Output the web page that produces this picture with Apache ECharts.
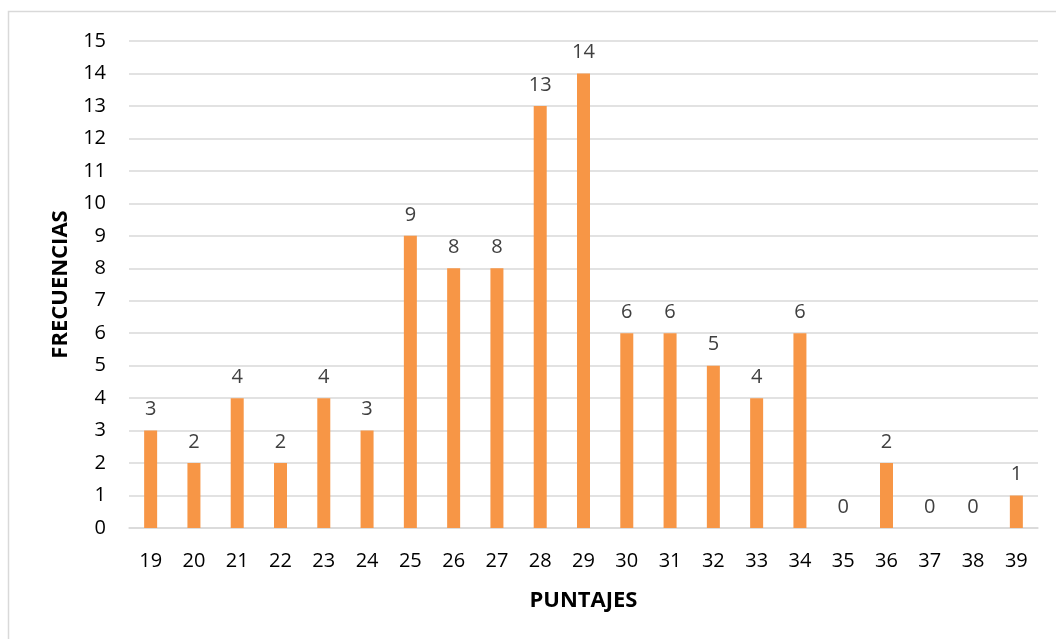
<!DOCTYPE html>
<html>
<head>
<meta charset="utf-8">
<script src="https://cdn.jsdelivr.net/npm/echarts@6/dist/echarts.min.js"></script>
<style>
html,body{margin:0;padding:0;background:#fff;}
#c{width:1056px;height:639px;}
</style>
</head>
<body>
<div id="c"></div>
<script>
const categories = ['19','20','21','22','23','24','25','26','27','28','29','30','31','32','33','34','35','36','37','38','39'];
const frecuencias = [3,2,4,2,4,3,9,8,8,13,14,6,6,5,4,6,0,2,0,0,1];
const yTicks = {min:0, max:15, interval:1};

const FONT = 'Open Sans';
const chart = echarts.init(document.getElementById('c'));
chart.setOption({
  animation:false,
  backgroundColor:'#fff',
  textStyle:{fontFamily:FONT},
  graphic:[{type:'rect', shape:{x:8.5,y:11.5,width:1060,height:640}, style:{fill:'none',stroke:'#d9d9d9',lineWidth:1.5}, silent:true}],
  grid:{left:129, right:18, top:41, bottom:111},
  xAxis:{
    type:'category', data:categories,
    name:'PUNTAJES', nameLocation:'middle', nameGap:62,
    nameTextStyle:{fontFamily:FONT, fontWeight:'bold', fontSize:22, color:'#000'},
    axisLine:{lineStyle:{color:'#d9d9d9', width:1.5}},
    axisTick:{show:false},
    axisLabel:{color:'#000', fontSize:20, margin:23, fontFamily:FONT}
  },
  yAxis:{
    type:'value', min:yTicks.min, max:yTicks.max, interval:yTicks.interval,
    name:'FRECUENCIAS', nameLocation:'middle', nameGap:52, nameRotate:90,
    nameTextStyle:{fontFamily:FONT, fontWeight:'bold', fontSize:22, color:'#000'},
    axisLine:{show:false}, axisTick:{show:false},
    axisLabel:{color:'#000', fontSize:20, margin:23, fontFamily:FONT},
    splitLine:{lineStyle:{color:'#d9d9d9', width:1.5}}
  },
  series:[{
    type:'bar', data:frecuencias, barWidth:13,
    itemStyle:{color:'#f79646'},
    label:{show:true, position:'top', distance:11, color:'#404040', fontSize:20, fontFamily:FONT}
  }]
});
</script>
</body>
</html>
